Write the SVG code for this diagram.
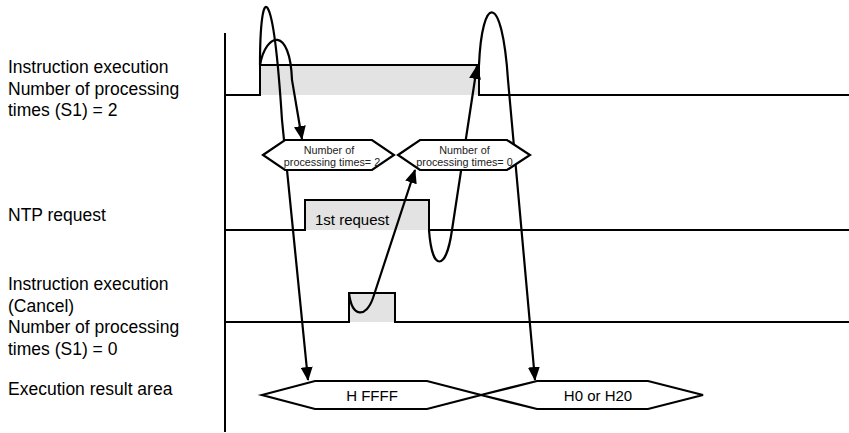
<svg xmlns="http://www.w3.org/2000/svg" width="849" height="433" viewBox="0 0 849 433">
<style>
.lbl{font-family:"Liberation Sans",Arial,sans-serif;font-size:17.5px;fill:#000}
.sig{fill:none;stroke:#000;stroke-width:2}
.pulse{fill:#e3e3e3;stroke:none}
.hex{fill:#fff;stroke:#000;stroke-width:2.2;stroke-linejoin:miter}
.hx{font-family:"Liberation Sans",Arial,sans-serif;font-size:10.8px;fill:#222;text-anchor:middle}
.hv{font-family:"Liberation Sans",Arial,sans-serif;font-size:15px;fill:#000;text-anchor:middle}
.con{fill:none;stroke:#000;stroke-width:2.2;marker-end:url(#ah)}
</style>
<defs>
<marker id="ah" markerUnits="userSpaceOnUse" markerWidth="14" markerHeight="12" viewBox="0 0 14 12" refX="13" refY="6" orient="auto">
<path d="M0,0 L14,6 L0,12 z" fill="#000"/>
</marker>
</defs>
<rect width="849" height="433" fill="#fff"/>

<g id="labels">
<text class="lbl" x="8" y="73">Instruction execution</text>
<text class="lbl" x="8" y="94.5">Number of processing</text>
<text class="lbl" x="8" y="116">times (S1) = 2</text>
<text class="lbl" x="8" y="221">NTP request</text>
<text class="lbl" x="8" y="290">Instruction execution</text>
<text class="lbl" x="8" y="311.5">(Cancel)</text>
<text class="lbl" x="8" y="333">Number of processing</text>
<text class="lbl" x="8" y="354.5">times (S1) = 0</text>
<text class="lbl" x="8" y="395">Execution result area</text>
</g>

<g id="axis">
<line x1="225" y1="33" x2="225" y2="432" stroke="#000" stroke-width="2"/>
</g>

<g id="signal-exec">
<rect class="pulse" x="260" y="65" width="219" height="30"/>
<polyline class="sig" points="225,95 260,95 260,65 479,65 479,95 849,95"/>
</g>

<g id="signal-ntp">
<rect class="pulse" x="305" y="200" width="124" height="30"/>
<polyline class="sig" points="225,230 305,230 305,200 429,200 429,230 849,230"/>
<text x="315" y="225" font-family="Liberation Sans, Arial, sans-serif" font-size="15" fill="#000">1st request</text>
</g>

<g id="signal-cancel">
<rect class="pulse" x="349" y="293" width="46" height="29"/>
<polyline class="sig" points="225,322 349,322 349,293 395,293 395,322 849,322"/>
</g>

<g id="connectors">
<path class="con" d="M260,65 C260,-20 273,-20 282,120 L308,380"/>
<path class="con" d="M260,65 C266,32 290,26 292,80 L302,139"/>
<path class="con" d="M349,293 C352,318 366,318 373,298 L415,170"/>
<path class="con" d="M429,230 C432,272 446,272 452,230 L477,66"/>
<path class="con" d="M479,65 C482,-5 502,-10 508,80 L535,380"/>
</g>

<g id="count-2">
<polygon class="hex" points="263,155 285,140 372,140 394,155 372,170 285,170"/>
<text class="hx" x="329" y="153.5">Number of</text>
<text class="hx" x="332" y="166">processing times= 2</text>
</g>

<g id="count-0">
<polygon class="hex" points="398,155 420,140 507,140 530,155 507,170 420,170"/>
<text class="hx" x="464.5" y="153.5">Number of</text>
<text class="hx" x="464.5" y="166">processing times= 0</text>
</g>

<g id="result-ffff">
<polygon class="hex" points="262,395 315,381 427,381 481,395 427,409 315,409"/>
<text class="hv" x="372" y="401">H FFFF</text>
</g>

<g id="result-h0">
<polygon class="hex" points="481,395 537,381 648,381 703,395 648,409 537,409"/>
<text class="hv" x="598" y="401">H0 or H20</text>
</g>
</svg>
